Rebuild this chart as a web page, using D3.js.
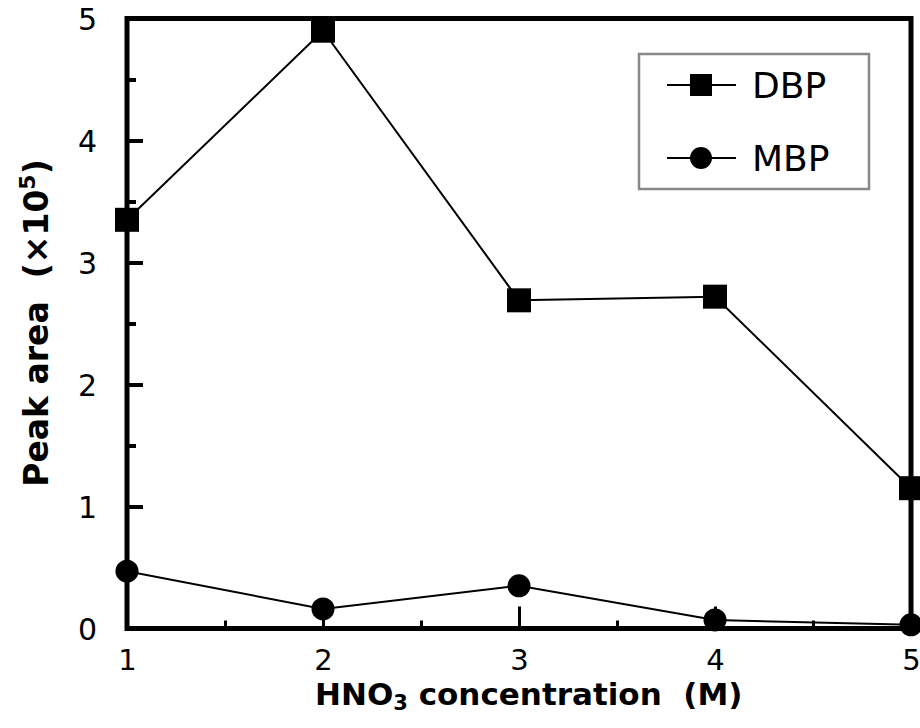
<!DOCTYPE html>
<html>
<head>
<meta charset="utf-8">
<script src="https://cdn.jsdelivr.net/npm/d3@7"></script>
<style>
  html, body { margin: 0; padding: 0; background: #fff; }
  svg { display: block; }
  text { font-family: "DejaVu Sans", Verdana, sans-serif; fill: #000; }
</style>
</head>
<body>
<svg id="chart" width="920" height="728"></svg>
<script>
// ---- Data ----
const concentrations = [1, 2, 3, 4, 5];
const dbpValues = [3.35, 4.9, 2.69, 2.72, 1.15];
const mbpValues = [0.47, 0.16, 0.35, 0.07, 0.03];
const seriesNames = ["DBP", "MBP"];
const xTickValues = [1, 2, 3, 4, 5];
const xMinorTicks = [1.5, 2.5, 3.5, 4.5];
const yTickValues = [0, 1, 2, 3, 4, 5];
const yMinorTicks = [0.5, 1.5, 2.5, 3.5, 4.5];

// ---- Layout ----
const svg = d3.select("#chart");
const x = d3.scaleLinear().domain([1, 5]).range([127, 911]);
const y = d3.scaleLinear().domain([0, 5]).range([628.5, 18.5]);

// y axis major + minor (inward ticks)
const yAxis = d3.axisLeft(y).tickValues(yTickValues).tickFormat(d3.format("d"))
  .tickSize(-16).tickPadding(30);
const gy = svg.append("g").attr("transform", `translate(${x(1)},0)`).call(yAxis);
gy.select(".domain").remove();
gy.selectAll(".tick line").attr("stroke", "#000").attr("stroke-width", 4);
gy.selectAll(".tick text").attr("font-size", 30).attr("dy", "0.36em");

const gym = svg.append("g").attr("transform", `translate(${x(1)},0)`)
  .call(d3.axisLeft(y).tickValues(yMinorTicks).tickFormat("").tickSize(-9));
gym.select(".domain").remove();
gym.selectAll(".tick line").attr("stroke", "#000").attr("stroke-width", 4);

// x axis major + minor
const xAxis = d3.axisBottom(x).tickValues(xTickValues).tickFormat(d3.format("d"))
  .tickSize(-22).tickPadding(21);
const gx = svg.append("g").attr("transform", `translate(0,${y(0)})`).call(xAxis);
gx.select(".domain").remove();
gx.selectAll(".tick line").attr("stroke", "#000").attr("stroke-width", 3);
gx.selectAll(".tick text").attr("font-size", 29);

const gxm = svg.append("g").attr("transform", `translate(0,${y(0)})`)
  .call(d3.axisBottom(x).tickValues(xMinorTicks).tickFormat("").tickSize(-8));
gxm.select(".domain").remove();
gxm.selectAll(".tick line").attr("stroke", "#000").attr("stroke-width", 3);

// frame
svg.append("rect")
  .attr("x", x(1)).attr("y", y(5))
  .attr("width", x(5) - x(1)).attr("height", y(0) - y(5))
  .attr("fill", "none").attr("stroke", "#000").attr("stroke-width", 5);

// ---- Series ----
const line = d3.line().x(d => x(d[0])).y(d => y(d[1]));
const dbp = concentrations.map((c, i) => [c, dbpValues[i]]);
const mbp = concentrations.map((c, i) => [c, mbpValues[i]]);

svg.append("path").datum(dbp).attr("d", line)
  .attr("fill", "none").attr("stroke", "#000").attr("stroke-width", 2);
svg.append("path").datum(mbp).attr("d", line)
  .attr("fill", "none").attr("stroke", "#000").attr("stroke-width", 2);

const sq = 24;
svg.selectAll("rect.dbp").data(dbp).enter().append("rect")
  .attr("class", "dbp")
  .attr("x", d => x(d[0]) - sq / 2).attr("y", d => y(d[1]) - sq / 2)
  .attr("width", sq).attr("height", sq).attr("fill", "#000");
svg.selectAll("circle.mbp").data(mbp).enter().append("circle")
  .attr("class", "mbp")
  .attr("cx", d => x(d[0])).attr("cy", d => y(d[1])).attr("r", 11.5)
  .attr("fill", "#000");

// ---- Legend ----
const lg = svg.append("g");
lg.append("rect").attr("x", 639).attr("y", 54).attr("width", 230).attr("height", 135)
  .attr("fill", "#fff").attr("stroke", "#888").attr("stroke-width", 2.5);
const rowsY = [85, 158];
seriesNames.forEach((name, i) => {
  const ry = rowsY[i];
  lg.append("line").attr("x1", 667).attr("x2", 736).attr("y1", ry).attr("y2", ry)
    .attr("stroke", "#000").attr("stroke-width", 2);
  if (i === 0) {
    lg.append("rect").attr("x", 701 - 11).attr("y", ry - 11).attr("width", 22).attr("height", 22)
      .attr("fill", "#000");
  } else {
    lg.append("circle").attr("cx", 701).attr("cy", ry).attr("r", 11).attr("fill", "#000");
  }
  lg.append("text").attr("x", 752).attr("y", ry + 13).attr("font-size", 36).text(name);
});

// ---- Axis titles ----
const xt = svg.append("text").attr("x", 315).attr("y", 705)
  .attr("font-size", 31).attr("font-weight", "bold").style("white-space", "pre");
xt.append("tspan").text("HNO");
xt.append("tspan").attr("font-size", 21).attr("dy", 5).text("3");
xt.append("tspan").attr("dy", -5).text(" concentration  (M)");

const yt = svg.append("text")
  .attr("transform", "translate(48,323) rotate(-90)")
  .attr("text-anchor", "middle")
  .attr("font-size", 33).attr("font-weight", "bold").style("white-space", "pre");
yt.append("tspan").text("Peak area  (×10");
yt.append("tspan").attr("font-size", 22).attr("dy", -13).text("5");
yt.append("tspan").attr("dy", 13).text(")");
</script>
</body>
</html>
